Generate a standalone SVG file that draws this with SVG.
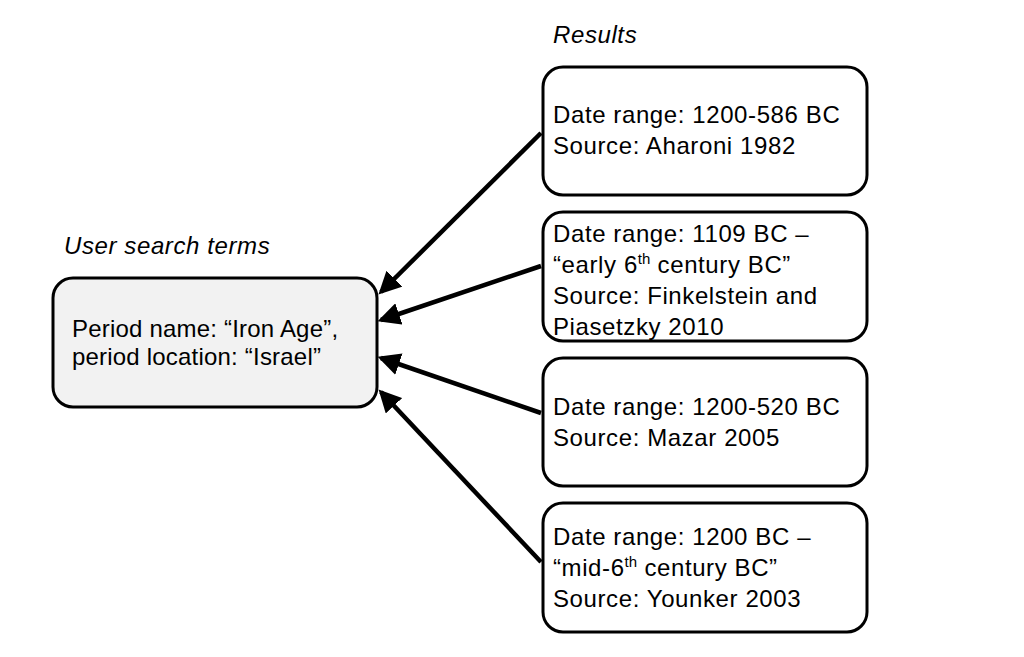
<svg xmlns="http://www.w3.org/2000/svg" width="1024" height="657" viewBox="0 0 1024 657">
<style>
.box{fill:#fff;stroke:#000;stroke-width:3}
.q{fill:#f2f2f2;stroke:#000;stroke-width:3}
text{font-family:"Liberation Sans",Arial,sans-serif;font-size:24px;fill:#000;letter-spacing:0.6px}
.it{font-style:italic}
.sup{font-size:15px;letter-spacing:0}
.lt{letter-spacing:0.2px}
.conn{stroke:#000;stroke-width:4.5;fill:none;marker-end:url(#ah)}
</style>
<defs>
<marker id="ah" markerWidth="5" markerHeight="5" refX="4.2" refY="2.5" orient="auto" markerUnits="strokeWidth">
<path d="M0,0 L5,2.5 L0,5 Z" fill="#000"/>
</marker>
</defs>
<rect width="1024" height="657" fill="#fff"/>
<text class="it" x="64" y="254">User search terms</text>
<text class="it" x="553" y="43">Results</text>
<g id="query">
<rect class="q" x="53" y="278" width="324" height="129" rx="20"/>
<text class="lt" x="72" y="337">Period name: “Iron Age”,</text>
<text class="lt" x="72" y="365">period location: “Israel”</text>
</g>
<g id="r1">
<rect class="box" x="543" y="67" width="324" height="128" rx="20"/>
<text x="553" y="123">Date range: 1200-586 BC</text>
<text x="553" y="154">Source: Aharoni 1982</text>
</g>
<g id="r2">
<rect class="box" x="543" y="212" width="324" height="129" rx="20"/>
<text x="553" y="242">Date range: 1109 BC –</text>
<text x="553" y="273">“early 6<tspan class="sup" dy="-9">th</tspan><tspan dy="9"> century BC”</tspan></text>
<text x="553" y="304">Source: Finkelstein and</text>
<text x="553" y="335">Piasetzky 2010</text>
</g>
<g id="r3">
<rect class="box" x="543" y="358" width="324" height="128" rx="20"/>
<text x="553" y="415">Date range: 1200-520 BC</text>
<text x="553" y="446">Source: Mazar 2005</text>
</g>
<g id="r4">
<rect class="box" x="543" y="503" width="324" height="129" rx="20"/>
<text x="553" y="545">Date range: 1200 BC –</text>
<text x="553" y="576">“mid-6<tspan class="sup" dy="-9">th</tspan><tspan dy="9"> century BC”</tspan></text>
<text x="553" y="607">Source: Younker 2003</text>
</g>
<g id="connectors">
<line class="conn" x1="541" y1="133" x2="381" y2="292"/>
<line class="conn" x1="541" y1="266" x2="381" y2="320"/>
<line class="conn" x1="541" y1="413" x2="381" y2="358"/>
<line class="conn" x1="541" y1="562" x2="381" y2="392"/>
</g>
</svg>
